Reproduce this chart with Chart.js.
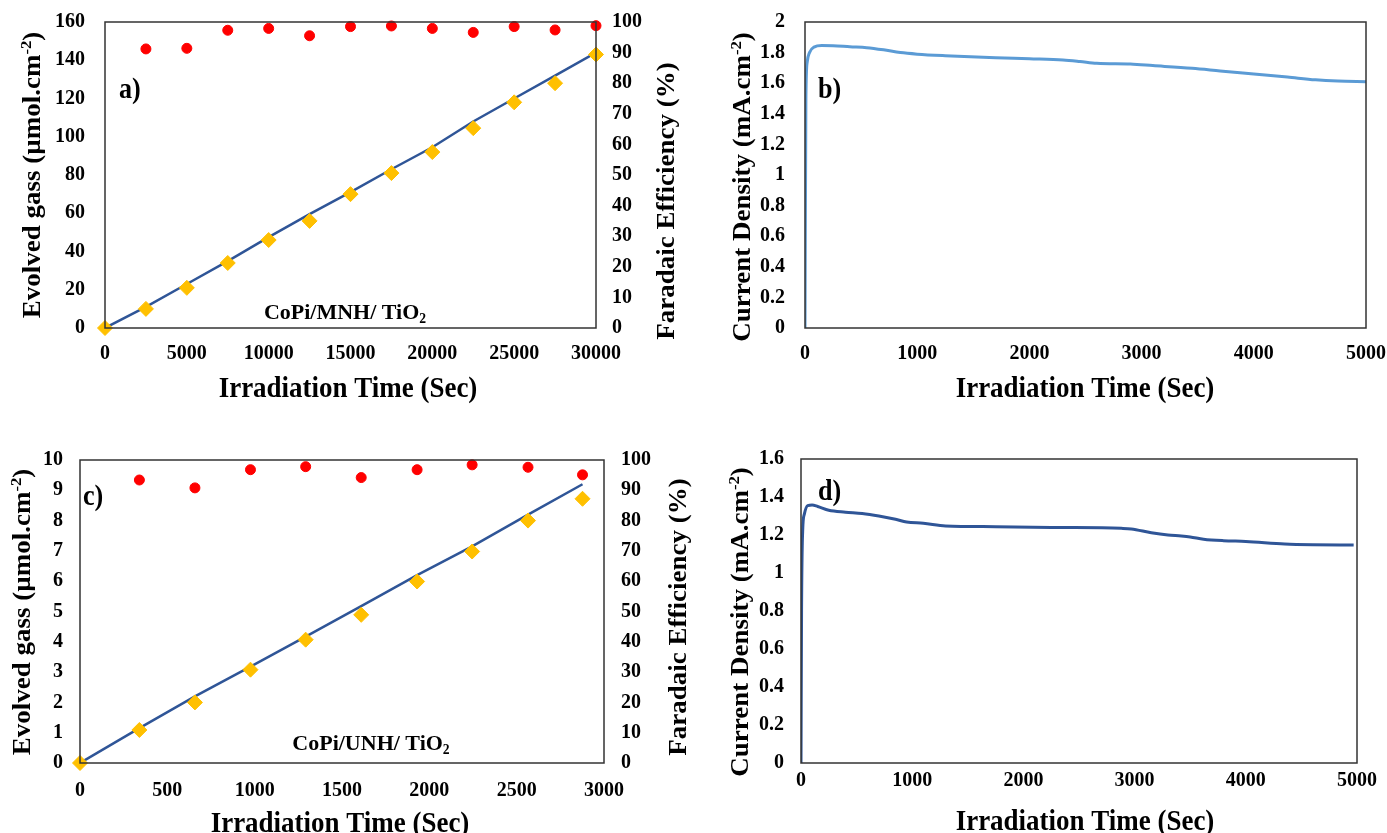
<!DOCTYPE html>
<html>
<head>
<meta charset="utf-8">
<script src="https://cdn.jsdelivr.net/npm/chart.js@4.4.1/dist/chart.umd.min.js"></script>
<style>
  html, body { margin:0; padding:0; background:#fff; }
  body { width:1387px; height:833px; position:relative; overflow:hidden; }
  canvas { position:absolute; }
</style>
</head>
<body>
<canvas id="chart-a" width="700" height="420" style="left:0;top:0;width:700px;height:420px"></canvas>
<canvas id="chart-b" width="687" height="420" style="left:700px;top:0;width:687px;height:420px"></canvas>
<canvas id="chart-c" width="700" height="413" style="left:0;top:420px;width:700px;height:413px"></canvas>
<canvas id="chart-d" width="687" height="413" style="left:700px;top:420px;width:687px;height:413px"></canvas>

<script>
/* ---------- data: a) CoPi/MNH/TiO2 ---------- */
const timeA     = [0, 2500, 5000, 7500, 10000, 12500, 15000, 17500, 20000, 22500, 25000, 27500, 30000];
const gasMeasA  = [0, 10, 21, 34, 46, 56, 70, 81, 92, 104.5, 118, 128, 143];
const gasTheoA  = [0, 11, 23, 35, 47.5, 59.5, 71, 83, 94.5, 108, 120, 132, 144];
const feTimeA   = [2500, 5000, 7500, 10000, 12500, 15000, 17500, 20000, 22500, 25000, 27500, 30000];
const feA       = [91.2, 91.4, 97.3, 97.9, 95.5, 98.5, 98.7, 97.9, 96.6, 98.5, 97.4, 98.8];

/* ---------- data: b) current density ---------- */
const timeB = [0, 8, 20, 40, 80, 150, 250, 400, 550, 700, 850, 1000, 1250, 1700, 2000, 2300, 2450, 2600, 2900, 3100, 3450, 3700, 4000, 4300, 4550, 4750, 5000];
const curB  = [0, 1.5, 1.74, 1.8, 1.836, 1.846, 1.845, 1.838, 1.832, 1.818, 1.8, 1.79, 1.78, 1.767, 1.76, 1.752, 1.742, 1.73, 1.725, 1.715, 1.697, 1.68, 1.66, 1.64, 1.622, 1.614, 1.61];

/* ---------- data: c) CoPi/UNH/TiO2 ---------- */
const timeC     = [0, 340, 658, 976, 1292, 1610, 1930, 2245, 2565, 2877];
const gasMeasC  = [0, 1.09, 2.0, 3.08, 4.07, 4.89, 5.99, 6.98, 8.0, 8.72];
const gasTheoC  = [0, 1.15, 2.2, 3.18, 4.17, 5.18, 6.2, 7.15, 8.2, 9.2];
const feTimeC   = [340, 658, 976, 1292, 1610, 1930, 2245, 2565, 2877];
const feC       = [93.4, 90.8, 96.8, 97.8, 94.2, 96.8, 98.4, 97.6, 95.1];

/* ---------- data: d) current density ---------- */
const timeD = [0, 5, 15, 30, 60, 100, 150, 250, 400, 550, 700, 850, 950, 1100, 1300, 1750, 2250, 2880, 2970, 3150, 3300, 3420, 3500, 3620, 3800, 4000, 4350, 4600, 4970];
const curD  = [0, 0.8, 1.22, 1.31, 1.355, 1.358, 1.35, 1.33, 1.32, 1.313, 1.3, 1.283, 1.268, 1.262, 1.248, 1.244, 1.24, 1.235, 1.232, 1.212, 1.2, 1.195, 1.19, 1.178, 1.17, 1.166, 1.153, 1.149, 1.147];

/* ---------- axis ranges ---------- */
const ticksA = { x:[0, 30000, 5000], y:[0, 160, 20], y1:[0, 100, 10] };
const ticksB = { x:[0, 5000, 1000],  y:[0, 2, 0.2] };
const ticksC = { x:[0, 3000, 500],   y:[0, 10, 1],  y1:[0, 100, 10] };
const ticksD = { x:[0, 5000, 1000],  y:[0, 1.6, 0.2] };

const SERIF = '"Liberation Serif","Times New Roman",serif';
const GOLD = '#ffc000', RED = '#ff0000', NAVY = '#2f5597', SKY = '#5b9bd5';

const pts = (xs, ys) => xs.map((x, i) => ({ x, y: ys[i] }));

// text with super/subscripts, centred on (x,y)
function drawRich(ctx, t){
  ctx.save();
  ctx.translate(t.x, t.y);
  if(t.rot) ctx.rotate(t.rot * Math.PI / 180);
  ctx.scale(t.sx || 1, t.sy || 1);
  let w = 0;
  t.parts.forEach(p => {
    const s = p.s ? t.size * 0.62 : t.size;
    ctx.font = `bold ${s}px ${SERIF}`;
    p.w = ctx.measureText(p.t).width;
    w += p.w;
  });
  let cx = t.align === 'left' ? 0 : -w / 2;
  ctx.fillStyle = '#000';
  ctx.textAlign = 'left';
  ctx.textBaseline = 'alphabetic';
  t.parts.forEach(p => {
    const s = p.s ? t.size * 0.62 : t.size;
    ctx.font = `bold ${s}px ${SERIF}`;
    const dy = p.s === 'sup' ? -t.size * 0.36 : p.s === 'sub' ? t.size * 0.18 : 0;
    ctx.fillText(p.t, cx, t.size * 0.33 + dy);
    cx += p.w;
  });
  ctx.restore();
}

const panelText = {
  id: 'panelText',
  afterDraw(chart, args, opts){
    const { ctx, chartArea: a } = chart;
    ctx.save();
    ctx.strokeStyle = '#333';
    ctx.lineWidth = 1.5;
    ctx.strokeRect(a.left, a.top, a.right - a.left, a.bottom - a.top);
    ctx.restore();
    (opts.texts || []).forEach(t => drawRich(ctx, t));
  }
};

function numAxis(range, position, fit, pad){
  return {
    type: 'linear', position,
    min: range[0], max: range[1],
    grid: { display:false, drawTicks:false },
    border: { display:false },
    ticks: {
      stepSize: range[2], padding: pad, color:'#000',
      font: { family: SERIF, size: 20, weight: 'bold' },
      callback: v => String(+(+v).toFixed(1))
    },
    afterFit(s){
      if(position === 'bottom'){ s.height = fit; s.paddingLeft = 0; s.paddingRight = 0; }
      else { s.width = fit; s.paddingTop = 0; s.paddingBottom = 0; }
    }
  };
}

function makeChart(id, datasets, scales, padding, texts){
  return new Chart(document.getElementById(id), {
    type: 'scatter',
    data: { datasets },
    options: {
      responsive: false, animation: false, devicePixelRatio: 1,
      layout: { padding },
      scales,
      plugins: { legend:{ display:false }, tooltip:{ enabled:false }, panelText:{ texts } }
    },
    plugins: [panelText]
  });
}

const xTitle = [{ t:'Irradiation Time (Sec)' }];
const gasTitle = [{ t:'Evolved gass (µmol.cm' }, { t:'-2', s:'sup' }, { t:')' }];
const feTitle = [{ t:'Faradaic Efficiency (%)' }];
const curTitle = [{ t:'Current Density (mA.cm' }, { t:'-2', s:'sup' }, { t:')' }];

function gasSets(tm, meas, theo, ft, fe){
  return [
    { data: pts(tm, meas), yAxisID:'y', pointStyle:'rectRot', pointRadius:7.5, borderWidth:1,
      backgroundColor:GOLD, borderColor:GOLD, showLine:false, clip:false, order:0 },
    { data: pts(ft, fe), yAxisID:'y1', pointStyle:'circle', pointRadius:5, borderWidth:1,
      backgroundColor:RED, borderColor:RED, showLine:false, clip:false, order:1 },
    { data: pts(tm, theo), yAxisID:'y', showLine:true, pointRadius:0, borderColor:NAVY,
      borderWidth:2.5, backgroundColor:NAVY, order:2 }
  ];
}

function curSet(tm, cur, color){
  return [{ data: pts(tm, cur), showLine:true, pointRadius:0, borderColor:color, borderWidth:3,
    cubicInterpolationMode:'monotone', backgroundColor:color }];
}

/* a) */
makeChart('chart-a', gasSets(timeA, gasMeasA, gasTheoA, feTimeA, feA), {
  x: numAxis(ticksA.x, 'bottom', 92, 14),
  y: numAxis(ticksA.y, 'left', 105, 20),
  y1: numAxis(ticksA.y1, 'right', 104, 16)
}, { top:22 }, [
  { parts: gasTitle, x:32, y:175, rot:-90, size:27, sy:0.92 },
  { parts: feTitle, x:666, y:201, rot:-90, size:27, sy:0.92 },
  { parts: xTitle, x:348, y:387, size:29, sx:0.93 },
  { parts: [{ t:'CoPi/MNH/ TiO' }, { t:'2', s:'sub' }], x:345, y:312, size:22 },
  { parts: [{ t:'a)' }], x:119, y:88, size:29, align:'left', sx:0.9 }
]);

/* b) */
makeChart('chart-b', curSet(timeB, curB, SKY), {
  x: numAxis(ticksB.x, 'bottom', 92, 14),
  y: numAxis(ticksB.y, 'left', 105, 20)
}, { top:22, right:21 }, [
  { parts: curTitle, x:42, y:187, rot:-90, size:27, sy:0.92 },
  { parts: xTitle, x:385, y:387, size:29, sx:0.93 },
  { parts: [{ t:'b)' }], x:118, y:88, size:29, align:'left', sx:0.9 }
]);

/* c) */
makeChart('chart-c', gasSets(timeC, gasMeasC, gasTheoC, feTimeC, feC), {
  x: numAxis(ticksC.x, 'bottom', 70, 16),
  y: numAxis(ticksC.y, 'left', 80, 17),
  y1: numAxis(ticksC.y1, 'right', 96, 17)
}, { top:40 }, [
  { parts: gasTitle, x:22, y:192, rot:-90, size:27, sy:0.92 },
  { parts: feTitle, x:678, y:197, rot:-90, size:27, sy:0.92 },
  { parts: xTitle, x:340, y:402, size:29, sx:0.93 },
  { parts: [{ t:'CoPi/UNH/ TiO' }, { t:'2', s:'sub' }], x:371, y:323, size:22 },
  { parts: [{ t:'c)' }], x:83, y:75, size:29, align:'left', sx:0.9 }
]);

/* d) */
makeChart('chart-d', curSet(timeD, curD, NAVY), {
  x: numAxis(ticksD.x, 'bottom', 70, 6),
  y: numAxis(ticksD.y, 'left', 101, 17)
}, { top:39, right:30 }, [
  { parts: curTitle, x:40, y:202, rot:-90, size:27, sy:0.92 },
  { parts: xTitle, x:385, y:400, size:29, sx:0.93 },
  { parts: [{ t:'d)' }], x:118, y:70, size:29, align:'left', sx:0.9 }
]);
</script>
</body>
</html>
